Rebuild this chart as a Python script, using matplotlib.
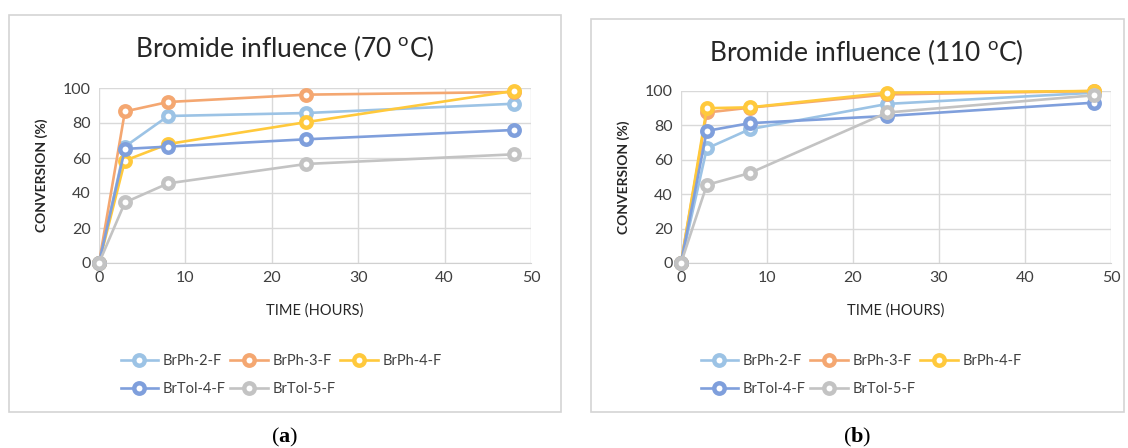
import matplotlib
matplotlib.use('Agg')
import matplotlib.pyplot as plt
from matplotlib.patches import Rectangle

plt.rcParams['font.family'] = ['Lato', 'DejaVu Sans']
plt.rcParams['mathtext.fontset'] = 'custom'
plt.rcParams['mathtext.bf'] = 'Liberation Serif:bold'
plt.rcParams['mathtext.rm'] = 'Liberation Serif'

#### data
hours = [0, 3, 8, 24, 48]
names = ['BrPh-2-F', 'BrPh-3-F', 'BrPh-4-F', 'BrTol-4-F', 'BrTol-5-F']
colors = ['#9cc3e5', '#f4a771', '#ffc93c', '#7f9fdc', '#c3c3c3']

conv_70 = [
    [0, 66.5, 84, 85.7, 91],
    [0, 86.6, 92, 96.2, 97.7],
    [0, 58.5, 68, 80.5, 98.3],
    [0, 65.2, 66.5, 70.7, 76],
    [0, 34.6, 45.5, 56.6, 62.1],
]
conv_110 = [
    [0, 66.6, 77.8, 92.5, 99],
    [0, 87.5, 90.3, 98, 100],
    [0, 90, 90.5, 99, 100],
    [0, 76.8, 81.3, 85.5, 93.2],
    [0, 45.4, 52.3, 87.5, 97.5],
]
titles = ['Bromide influence (70 $^{\\mathregular{o}}$C)',
          'Bromide influence (110 $^{\\mathregular{o}}$C)']
captions = ['($\\mathbf{a}$)', '($\\mathbf{b}$)']

W, H = 1128, 448
fig = plt.figure(figsize=(W/100, H/100), dpi=100)

def fx(px):
    return px/W

def fy(py):
    return 1 - py/H

#### panel frames
boxes = [(9, 15, 561, 412), (591, 19, 1124, 412)]
for (x0, y0, x1, y1) in boxes:
    fig.patches.append(Rectangle((fx(x0), fy(y1)), fx(x1-x0), (y1-y0)/H,
                                 transform=fig.transFigure, fill=False,
                                 edgecolor='#d4d4d4', lw=1.2))

ax_px = [(99, 88, 531, 263), (681, 91, 1111, 263)]
title_pos = [(285, 48), (866, 52)]
ylab_x = [42, 624]
xlab_y = [311, 311]
leg_center = [281, 861]
cap_x = [285, 857]

for k, data in enumerate([conv_70, conv_110]):
    x0, y0, x1, y1 = ax_px[k]
    ax = fig.add_axes([fx(x0), fy(y1), fx(x1-x0), (y1-y0)/H])
    handles = []
    for i in range(len(names)):
        h, = ax.plot(hours, data[i], color=colors[i], lw=1.9, marker='o',
                     ms=7.5, mew=3.2, mfc='white', mec=colors[i],
                     clip_on=False, zorder=3+i, label=names[i])
        handles.append(h)
    ax.set_xlim(0, 50)
    ax.set_ylim(0, 100)
    ax.set_xticks(range(0, 51, 10))
    ax.set_yticks(range(0, 101, 20))
    ax.grid(color='#d9d9d9', lw=1)
    ax.set_axisbelow(True)
    for s in ['top', 'right', 'left']:
        ax.spines[s].set_visible(False)
    ax.spines['bottom'].set_color('#d0d0d0')
    ax.tick_params(length=0, labelsize=11.5, labelcolor='#404040', pad=6)
    fig.text(fx(title_pos[k][0]), fy(title_pos[k][1]), titles[k],
             ha='center', va='center', fontsize=19, color='#262626')
    fig.text(fx(ylab_x[k]), fy((y0+y1)/2), 'CONVERSION (%)', rotation=90,
             ha='center', va='center', fontsize=10, fontweight='bold',
             color='#262626')
    fig.text(fx((x0+x1)/2), fy(xlab_y[k]), 'TIME (HOURS)', ha='center',
             va='center', fontsize=10.5, color='#262626')
    order = [0, 3, 1, 4, 2]
    fig.legend([handles[j] for j in order], [names[j] for j in order],
               ncol=3, loc='center', bbox_to_anchor=(fx(leg_center[k]), fy(375)),
               frameon=False, fontsize=10.5, handlelength=2.6,
               columnspacing=0.3, handletextpad=0.3, labelspacing=1.0,
               labelcolor='#404040')
    fig.text(fx(cap_x[k]), fy(437), captions[k], ha='center', va='center',
             fontsize=16, family='Liberation Serif')

plt.savefig('out.png', dpi=100)
